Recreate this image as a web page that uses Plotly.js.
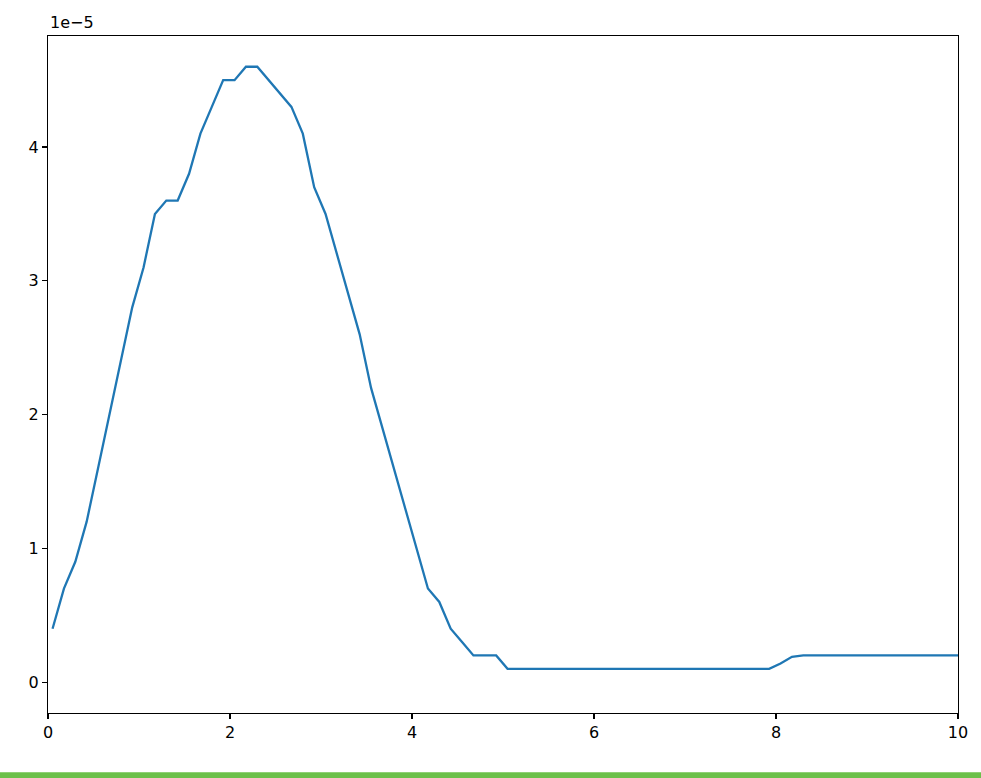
<!DOCTYPE html>
<html>
<head>
<meta charset="utf-8">
<script src="https://cdn.plot.ly/plotly-3.0.1.min.js"></script>
<style>
html, body { margin: 0; padding: 0; background: #ffffff; }
#chart { width: 981px; height: 778px; }
</style>
</head>
<body>
<div id="chart"></div>
<script>
// x positions of the samples
const xValues = [
  0.05, 0.175, 0.3, 0.425, 0.55, 0.675, 0.8, 0.925, 1.05, 1.175,
  1.3, 1.425, 1.55, 1.675, 1.8, 1.925, 2.05, 2.175, 2.3, 2.425,
  2.55, 2.675, 2.8, 2.925, 3.05, 3.175, 3.3, 3.425, 3.55, 3.675,
  3.8, 3.925, 4.05, 4.175, 4.3, 4.425, 4.55, 4.675, 4.8, 4.925,
  5.05, 5.175, 5.3, 5.425, 5.55, 5.675, 5.8, 5.925, 6.05, 6.175,
  6.3, 6.425, 6.55, 6.675, 6.8, 6.925, 7.05, 7.175, 7.3, 7.425,
  7.55, 7.675, 7.8, 7.925, 8.05, 8.175, 8.3, 8.425, 8.55, 8.675,
  8.8, 8.925, 9.05, 9.175, 9.3, 9.425, 9.55, 9.675, 9.8, 9.925, 10.0
];
// series values
const yValues = [
  0.40e-5, 0.70e-5, 0.90e-5, 1.20e-5, 1.60e-5, 2.00e-5, 2.40e-5, 2.80e-5, 3.10e-5, 3.50e-5,
  3.60e-5, 3.60e-5, 3.80e-5, 4.10e-5, 4.30e-5, 4.50e-5, 4.50e-5, 4.60e-5, 4.60e-5, 4.50e-5,
  4.40e-5, 4.30e-5, 4.10e-5, 3.70e-5, 3.50e-5, 3.20e-5, 2.90e-5, 2.60e-5, 2.20e-5, 1.90e-5,
  1.60e-5, 1.30e-5, 1.00e-5, 0.70e-5, 0.60e-5, 0.40e-5, 0.30e-5, 0.20e-5, 0.20e-5, 0.20e-5,
  0.10e-5, 0.10e-5, 0.10e-5, 0.10e-5, 0.10e-5, 0.10e-5, 0.10e-5, 0.10e-5, 0.10e-5, 0.10e-5,
  0.10e-5, 0.10e-5, 0.10e-5, 0.10e-5, 0.10e-5, 0.10e-5, 0.10e-5, 0.10e-5, 0.10e-5, 0.10e-5,
  0.10e-5, 0.10e-5, 0.10e-5, 0.10e-5, 0.14e-5, 0.19e-5, 0.20e-5, 0.20e-5, 0.20e-5, 0.20e-5,
  0.20e-5, 0.20e-5, 0.20e-5, 0.20e-5, 0.20e-5, 0.20e-5, 0.20e-5, 0.20e-5, 0.20e-5, 0.20e-5, 0.20e-5
];
// tick labels
const xTickVals = [0, 2, 4, 6, 8, 10];
const xTickText = ["0", "2", "4", "6", "8", "10"];
const yTickVals = [0, 1e-5, 2e-5, 3e-5, 4e-5];
const yTickText = ["0", "1", "2", "3", "4"];
const offsetText = "1e\u22125";

const FONT = "DejaVu Sans, sans-serif";

const trace = {
  x: xValues,
  y: yValues,
  type: "scatter",
  mode: "lines",
  line: { color: "#1f77b4", width: 2.3 },
  hoverinfo: "skip"
};

const axisCommon = {
  showgrid: false,
  zeroline: false,
  showline: true,
  linecolor: "#000000",
  linewidth: 1.2,
  mirror: true,
  ticks: "outside",
  ticklen: 5,
  tickwidth: 1.2,
  tickcolor: "#000000",
  tickfont: { family: FONT, size: 16, color: "#000000" }
};

const layout = {
  width: 981,
  height: 778,
  margin: { l: 48, r: 23, t: 36, b: 65, pad: 0 },
  paper_bgcolor: "#ffffff",
  plot_bgcolor: "#ffffff",
  showlegend: false,
  xaxis: Object.assign({}, axisCommon, {
    range: [0, 10],
    tickmode: "array",
    tickvals: xTickVals,
    ticktext: xTickText
  }),
  yaxis: Object.assign({}, axisCommon, {
    range: [-0.23e-5, 4.83e-5],
    tickmode: "array",
    tickvals: yTickVals,
    ticktext: yTickText
  }),
  annotations: [{
    text: offsetText,
    xref: "paper", yref: "paper",
    x: 0, y: 1,
    xanchor: "left", yanchor: "bottom",
    yshift: 2,
    showarrow: false,
    font: { family: FONT, size: 16, color: "#000000" }
  }],
  shapes: [{
    type: "rect",
    xref: "paper", yref: "paper",
    x0: -0.06, x1: 1.03,
    y0: -0.0975, y1: -0.0877,
    fillcolor: "#6cc04a",
    line: { width: 0 },
    layer: "above"
  }]
};

Plotly.newPlot("chart", [trace], layout, { displayModeBar: false, staticPlot: true });
</script>
</body>
</html>
